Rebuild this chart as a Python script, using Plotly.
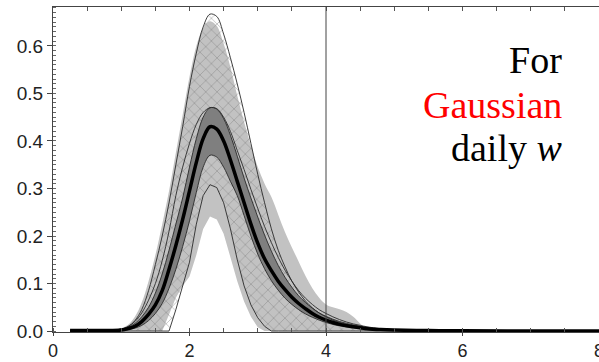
import plotly.graph_objects as go

# x grid (w units)
X = [0.25, 0.5, 0.75, 1.0, 1.1, 1.2, 1.3, 1.4, 1.5, 1.6, 1.7, 1.8, 1.9, 2.0, 2.1, 2.2, 2.3, 2.4, 2.5,
     2.6, 2.7, 2.8, 2.9, 3.0, 3.1, 3.2, 3.3, 3.4, 3.5, 3.6, 3.7, 3.8, 3.9, 4.0, 4.1, 4.2, 4.3, 4.4,
     4.5, 4.6, 4.8, 5.0, 5.5, 6.0, 7.0, 8.0]

# light grey envelope
LG_HI = [0.0005, 0.001, 0.002, 0.006, 0.013, 0.03, 0.06, 0.105, 0.16, 0.225, 0.295, 0.375, 0.455, 0.535,
         0.60, 0.638, 0.652, 0.642, 0.605, 0.555, 0.495, 0.44, 0.39, 0.345, 0.31, 0.282, 0.245, 0.208,
         0.176, 0.146, 0.116, 0.09, 0.07, 0.056, 0.05, 0.046, 0.04, 0.03, 0.016, 0.005, 0.001, 0.0005,
         0, 0, 0, 0]
LG_LO = [0, 0, 0, 0, 0, 0, 0, 0, 0, 0, 0.035, 0.07, 0.095, 0.115, 0.16, 0.215, 0.241, 0.235, 0.205,
         0.155, 0.105, 0.062, 0.03, 0.008, 0, 0, 0, 0, 0, 0, 0, 0, 0, 0, 0, 0, 0, 0, 0, 0, 0, 0, 0, 0, 0, 0]

# cross-hatched band
H_HI = [0.0005, 0.001, 0.002, 0.004, 0.009, 0.022, 0.045, 0.085, 0.14, 0.2, 0.27, 0.35, 0.43, 0.515,
        0.585, 0.64, 0.667, 0.662, 0.625, 0.575, 0.52, 0.46, 0.395, 0.33, 0.27, 0.215, 0.17, 0.135,
        0.105, 0.082, 0.063, 0.049, 0.038, 0.03, 0.023, 0.018, 0.014, 0.011, 0.008, 0.006, 0.003,
        0.002, 0.0005, 0, 0, 0]
H_LO = [0, 0, 0, 0, 0, 0, 0, 0, 0, 0, 0, 0.045, 0.095, 0.145, 0.225, 0.285, 0.308, 0.302, 0.27, 0.215,
        0.15, 0.095, 0.055, 0.028, 0.01, 0, 0, 0, 0, 0, 0, 0, 0, 0, 0, 0, 0, 0, 0, 0, 0, 0, 0, 0, 0, 0]

# dark grey band
D_HI = [0.001, 0.001, 0.002, 0.004, 0.008, 0.016, 0.03, 0.05, 0.08, 0.12, 0.17, 0.225, 0.28, 0.345,
        0.405, 0.45, 0.47, 0.467, 0.447, 0.412, 0.368, 0.322, 0.28, 0.24, 0.202, 0.168, 0.138, 0.113,
        0.092, 0.074, 0.06, 0.048, 0.038, 0.031, 0.025, 0.02, 0.016, 0.013, 0.01, 0.008, 0.005, 0.003,
        0.001, 0.0005, 0, 0]
D_LO = [0.0005, 0.0005, 0.001, 0.001, 0.003, 0.006, 0.012, 0.022, 0.037, 0.058, 0.09, 0.13, 0.178,
        0.232, 0.292, 0.345, 0.37, 0.366, 0.345, 0.315, 0.285, 0.243, 0.2, 0.162, 0.131, 0.106, 0.086,
        0.069, 0.056, 0.045, 0.036, 0.029, 0.023, 0.018, 0.014, 0.011, 0.009, 0.007, 0.005, 0.004,
        0.002, 0.001, 0.0005, 0, 0, 0]

# extra thin curve
T_OUT = [0.001, 0.001, 0.002, 0.004, 0.01, 0.02, 0.038, 0.065, 0.10, 0.148, 0.21, 0.285, 0.345, 0.395,
         0.435, 0.46, 0.47, 0.468, 0.45, 0.42, 0.38, 0.34, 0.298, 0.258, 0.22, 0.186, 0.155, 0.128,
         0.105, 0.085, 0.069, 0.056, 0.045, 0.037, 0.03, 0.024, 0.019, 0.015, 0.012, 0.009, 0.005,
         0.003, 0.001, 0.0005, 0, 0]

# median (thick black)
MED = [0.001, 0.001, 0.001, 0.002, 0.005, 0.01, 0.02, 0.035, 0.055, 0.085, 0.13, 0.18, 0.235, 0.295,
       0.355, 0.405, 0.43, 0.425, 0.40, 0.36, 0.315, 0.27, 0.225, 0.185, 0.152, 0.127, 0.105, 0.087,
       0.071, 0.058, 0.047, 0.037, 0.029, 0.023, 0.018, 0.014, 0.011, 0.009, 0.007, 0.005, 0.003,
       0.002, 0.001, 0.0005, 0, 0]

VLINE_X = 4
LABEL_LINES = ["For", "<span style='color:#ff0000'>Gaussian</span>", "daily <i>w</i>"]

fig = go.Figure()
smooth = dict(mode="lines", hoverinfo="skip", showlegend=False, line_shape="spline")
lin = dict(mode="lines", hoverinfo="skip", showlegend=False, line_shape="linear")
clear = dict(width=0, color="rgba(0,0,0,0)")

# light grey band
fig.add_trace(go.Scatter(x=X, y=LG_LO, line=clear, **lin))
fig.add_trace(go.Scatter(x=X, y=LG_HI, fill="tonexty", fillcolor="#c2c2c2", line=clear, **smooth))
# hatched band
fig.add_trace(go.Scatter(x=X, y=H_LO, line=clear, **lin))
fig.add_trace(go.Scatter(x=X, y=H_HI, fill="tonexty", fillcolor="rgba(0,0,0,0)",
                         fillpattern=dict(shape="x", fgcolor="#7c7c7c", bgcolor="rgba(0,0,0,0)",
                                          size=8, solidity=0.2),
                         line=clear, **smooth))
# dark band
fig.add_trace(go.Scatter(x=X, y=D_LO, line=clear, **smooth))
fig.add_trace(go.Scatter(x=X, y=D_HI, fill="tonexty", fillcolor="#7f7f7f", line=clear, **smooth))
# thin outlines
fig.add_trace(go.Scatter(x=X, y=H_HI, line=dict(width=0.9, color="#2a2a2a"), **smooth))
fig.add_trace(go.Scatter(x=X, y=H_LO, line=dict(width=0.9, color="#2a2a2a"), **lin))
for ys in (T_OUT, D_HI, D_LO):
    fig.add_trace(go.Scatter(x=X, y=ys, line=dict(width=0.9, color="#2a2a2a"), **smooth))
# median
fig.add_trace(go.Scatter(x=X, y=MED, line=dict(width=3.5, color="black"), **smooth))

# dummy trace for top tick axis
fig.add_trace(go.Scatter(x=[], y=[], xaxis="x2", showlegend=False, hoverinfo="skip"))

fig.add_vline(x=VLINE_X, line=dict(color="#444444", width=1))

serif = dict(family="Liberation Serif, Times New Roman, serif", size=38, color="black")
for txt, yy in zip(LABEL_LINES, [0.838, 0.699, 0.565]):
    fig.add_annotation(text=txt, xref="paper", yref="paper", x=0.936, y=yy,
                       xanchor="right", yanchor="middle", showarrow=False, font=serif)

xtickfont = dict(family="Liberation Sans", size=18, color="#222222")
ytickfont = dict(family="Liberation Sans", size=19, color="#222222")
fig.update_layout(
    width=599, height=362,
    margin=dict(l=53, r=0, t=7, b=30),
    paper_bgcolor="white", plot_bgcolor="white",
    showlegend=False,
    xaxis=dict(range=[0, 8], tick0=0, dtick=2, ticks="outside", ticklen=3, tickcolor="#444",
               minor=dict(dtick=0.5, tick0=0, ticks="inside", ticklen=4, tickcolor="#555"),
               showline=True, linecolor="#444", linewidth=1, mirror=True, automargin=False,
               showgrid=False, zeroline=False, tickfont=xtickfont, ticklabeloverflow="allow",
               ticklabelstandoff=-1),
    xaxis2=dict(range=[0, 8], overlaying="x", side="top", anchor="y", tick0=0, dtick=0.5,
                ticks="inside", ticklen=4, tickcolor="#555", showticklabels=False,
                showline=False, showgrid=False, zeroline=False, automargin=False),
    yaxis=dict(range=[-0.002, 0.682], tick0=0, dtick=0.1, tickformat=".1f",
               ticks="outside", ticklen=5, tickcolor="#444", automargin=False,
               minor=dict(dtick=0.01, tick0=0, ticks="inside", ticklen=3, tickcolor="#666"),
               showline=True, linecolor="#444", linewidth=1, mirror=True,
               showgrid=False, zeroline=False, tickfont=ytickfont),
)

fig.write_html("out.html")
